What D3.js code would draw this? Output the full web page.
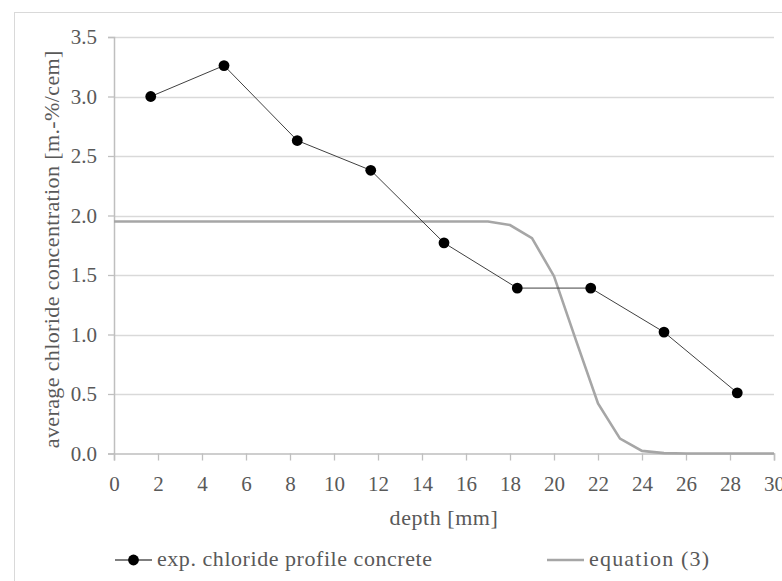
<!DOCTYPE html>
<html>
<head>
<meta charset="utf-8">
<script src="https://cdn.jsdelivr.net/npm/d3@7/dist/d3.min.js"></script>
<style>
  html, body { margin: 0; padding: 0; background: #fff; }
  svg { display: block; }
  text { font-family: "Liberation Serif", "DejaVu Serif", serif; fill: #595959; }
  .lbl { font-size: 22px; letter-spacing: 0.55px; }
</style>
</head>
<body>
<svg id="chart" width="782" height="581"></svg>
<script>
// measured chloride profile (depth in mm, content in m.-%/cem)
const expDepth = [1.67, 5.0, 8.33, 11.67, 15.0, 18.33, 21.67, 25.0, 28.33];
const expValue = [3.0, 3.26, 2.63, 2.38, 1.77, 1.39, 1.39, 1.02, 0.51];

// profile computed with equation (3), 1 mm steps
const eqDepth = [0, 1, 2, 3, 4, 5, 6, 7, 8, 9, 10, 11, 12, 13, 14, 15, 16, 17, 18, 19, 20, 21, 22, 23, 24, 25, 26, 27, 28, 29, 30];
const eqValue = [1.95, 1.95, 1.95, 1.95, 1.95, 1.95, 1.95, 1.95, 1.95, 1.95, 1.95, 1.95, 1.95, 1.95, 1.95, 1.95, 1.95, 1.95, 1.92, 1.81, 1.49, 0.95, 0.42, 0.125, 0.022, 0.003, 0, 0, 0, 0, 0];

const xTicks = [0, 2, 4, 6, 8, 10, 12, 14, 16, 18, 20, 22, 24, 26, 28, 30];
const yTicks = [0, 0.5, 1.0, 1.5, 2.0, 2.5, 3.0, 3.5];

const seriesNames = ["exp. chloride profile concrete", "equation (3)"];
const xTitle = "depth [mm]";
const yTitle = "average chloride concentration [m.-%/cem]";

const svg = d3.select("#chart");
const plot = { left: 114, right: 774, top: 37, bottom: 453.5 };

const x = d3.scaleLinear().domain([0, 30]).range([plot.left, plot.right]);
const y = d3.scaleLinear().domain([0, 3.5]).range([plot.bottom, plot.top]);

// chart frame
svg.append("rect")
  .attr("x", 14.5).attr("y", 12.5)
  .attr("width", 800).attr("height", 600)
  .attr("fill", "none").attr("stroke", "#d9d9d9").attr("stroke-width", 1);

// horizontal gridlines
svg.append("g").selectAll("line")
  .data(yTicks.filter(d => d > 0))
  .join("line")
  .attr("x1", plot.left).attr("x2", plot.right)
  .attr("y1", d => Math.round(y(d)) + 0.5).attr("y2", d => Math.round(y(d)) + 0.5)
  .attr("stroke", "#d9d9d9").attr("stroke-width", 1.3);

// y axis
const yAxis = svg.append("g")
  .attr("transform", `translate(${plot.left},0)`)
  .call(d3.axisLeft(y).tickValues(yTicks).tickFormat(d3.format(".1f")).tickSize(6).tickPadding(11));

// x axis
const xAxis = svg.append("g")
  .attr("transform", `translate(0,${plot.bottom})`)
  .call(d3.axisBottom(x).tickValues(xTicks).tickFormat(d3.format("d")).tickSize(7).tickPadding(16));

[yAxis, xAxis].forEach(g => {
  g.selectAll(".domain").attr("stroke", "#bfbfbf").attr("stroke-width", 1.5);
  g.selectAll(".tick line").attr("stroke", "#bfbfbf").attr("stroke-width", 1.3);
  g.selectAll(".tick text")
    .attr("fill", "#595959")
    .style("font-family", "'Liberation Serif', serif")
    .style("font-size", "21px");
});

// equation (3) curve
const line = d3.line().x(d => x(d[0])).y(d => y(d[1]));
svg.append("path")
  .datum(eqDepth.map((d, i) => [d, eqValue[i]]))
  .attr("d", line)
  .attr("fill", "none").attr("stroke", "#a6a6a6").attr("stroke-width", 2.6);

// experimental profile
const expPts = expDepth.map((d, i) => [d, expValue[i]]);
svg.append("path")
  .datum(expPts)
  .attr("d", line)
  .attr("fill", "none").attr("stroke", "#404040").attr("stroke-width", 1);
svg.append("g").selectAll("circle")
  .data(expPts)
  .join("circle")
  .attr("cx", d => x(d[0])).attr("cy", d => y(d[1]))
  .attr("r", 5.4).attr("fill", "#000");

// axis titles
svg.append("text")
  .attr("class", "lbl")
  .attr("x", (plot.left + plot.right) / 2).attr("y", 525)
  .attr("text-anchor", "middle")
  .text(xTitle);

svg.append("text")
  .attr("class", "lbl")
  .style("letter-spacing", "0.38px")
  .attr("transform", `translate(59,${(plot.top + plot.bottom) / 2 + 4}) rotate(-90)`)
  .attr("text-anchor", "middle")
  .text(yTitle);

// legend
const legY = 560;
svg.append("line")
  .attr("x1", 115).attr("x2", 152).attr("y1", legY).attr("y2", legY)
  .attr("stroke", "#000").attr("stroke-width", 1.2);
svg.append("circle").attr("cx", 133.5).attr("cy", legY).attr("r", 5.4).attr("fill", "#000");
svg.append("text").attr("class", "lbl").attr("x", 157).attr("y", legY + 6).text(seriesNames[0]);

svg.append("line")
  .attr("x1", 547).attr("x2", 584).attr("y1", legY).attr("y2", legY)
  .attr("stroke", "#a6a6a6").attr("stroke-width", 2.6);
svg.append("text").attr("class", "lbl").style("letter-spacing", "1.2px")
  .attr("x", 589).attr("y", legY + 6).text(seriesNames[1]);
</script>
</body>
</html>
